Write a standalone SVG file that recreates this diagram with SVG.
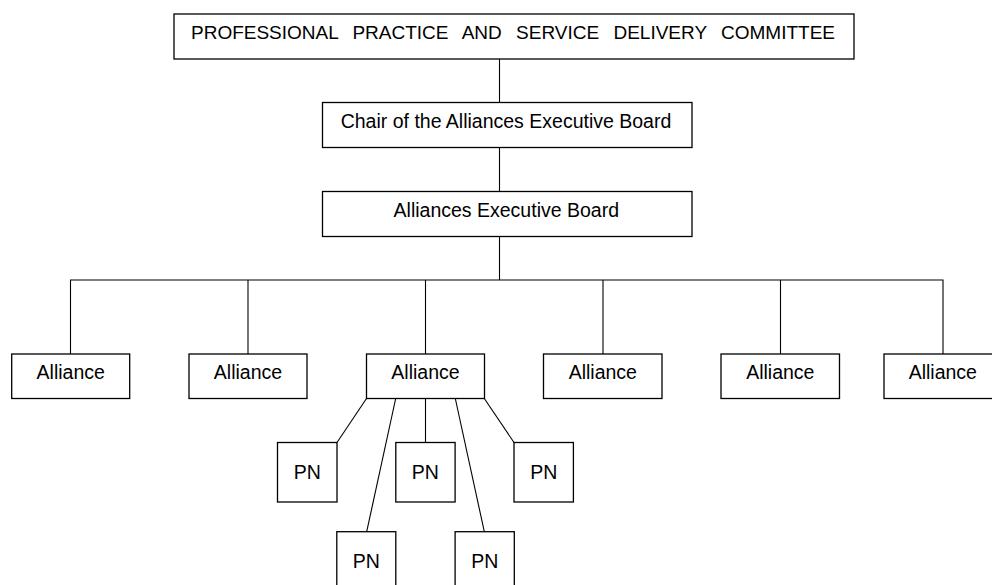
<svg xmlns="http://www.w3.org/2000/svg" width="992" height="585" viewBox="0 0 992 585">
<style>
.box{fill:#fff;stroke:#000;stroke-width:1.3}
.t{font-family:"Liberation Sans",Arial,sans-serif;font-size:19.5px;fill:#000;text-anchor:middle}
.c{stroke:#000;stroke-width:1.1;fill:none}
</style>
<rect width="992" height="585" fill="#fff"/>
<g id="connectors">
<line class="c" x1="499.5" y1="59" x2="499.5" y2="102.5"/>
<line class="c" x1="499.5" y1="147.5" x2="499.5" y2="191.5"/>
<line class="c" x1="499.5" y1="236.5" x2="499.5" y2="280"/>
<polyline class="c" points="70.5,354 70.5,280 943,280 943,354"/>
<line class="c" x1="248" y1="280" x2="248" y2="354"/>
<line class="c" x1="425.5" y1="280" x2="425.5" y2="354"/>
<line class="c" x1="603" y1="280" x2="603" y2="354"/>
<line class="c" x1="780.5" y1="280" x2="780.5" y2="354"/>
<line class="c" x1="366.5" y1="398.5" x2="337" y2="442.5"/>
<line class="c" x1="395.7" y1="398.5" x2="366.7" y2="531.7"/>
<line class="c" x1="425.5" y1="398.5" x2="425.5" y2="442.5"/>
<line class="c" x1="455.3" y1="398.5" x2="484.3" y2="531.7"/>
<line class="c" x1="484.3" y1="398.5" x2="514" y2="442.5"/>
</g>
<g id="committee"><rect class="box" x="174" y="14" width="680" height="45"/><text class="t" x="513" y="38.5" style="font-size:19px;word-spacing:9px">PROFESSIONAL PRACTICE AND SERVICE DELIVERY COMMITTEE</text></g>
<g id="chair"><rect class="box" x="322.5" y="102.5" width="369.5" height="45"/><text class="t" x="506" y="127.5">Chair of the Alliances Executive Board</text></g>
<g id="board"><rect class="box" x="322.5" y="191.5" width="369.5" height="45"/><text class="t" x="506.3" y="216.5">Alliances Executive Board</text></g>
<g id="alliance1"><rect class="box" x="11.7" y="354" width="118" height="44.5"/><text class="t" x="70.7" y="378.5">Alliance</text></g>
<g id="alliance2"><rect class="box" x="189" y="354" width="118" height="44.5"/><text class="t" x="248" y="378.5">Alliance</text></g>
<g id="alliance3"><rect class="box" x="366.5" y="354" width="118" height="44.5"/><text class="t" x="425.5" y="378.5">Alliance</text></g>
<g id="alliance4"><rect class="box" x="543.5" y="354" width="118.5" height="44.5"/><text class="t" x="602.8" y="378.5">Alliance</text></g>
<g id="alliance5"><rect class="box" x="721" y="354" width="118.5" height="44.5"/><text class="t" x="780.3" y="378.5">Alliance</text></g>
<g id="alliance6"><rect class="box" x="884" y="354" width="118" height="44.5"/><text class="t" x="942.8" y="378.5">Alliance</text></g>
<g id="pn1"><rect class="box" x="277.5" y="442.5" width="59.5" height="59.5"/><text class="t" x="307.2" y="479.3">PN</text></g>
<g id="pn2"><rect class="box" x="336.8" y="531.7" width="59" height="59.5"/><text class="t" x="366.3" y="567.8">PN</text></g>
<g id="pn3"><rect class="box" x="395.8" y="442.5" width="59.3" height="59.5"/><text class="t" x="425.4" y="479.3">PN</text></g>
<g id="pn4"><rect class="box" x="455.1" y="531.7" width="59.2" height="59.5"/><text class="t" x="484.7" y="567.8">PN</text></g>
<g id="pn5"><rect class="box" x="514" y="442.5" width="59.4" height="59.5"/><text class="t" x="543.7" y="479.3">PN</text></g>
</svg>
